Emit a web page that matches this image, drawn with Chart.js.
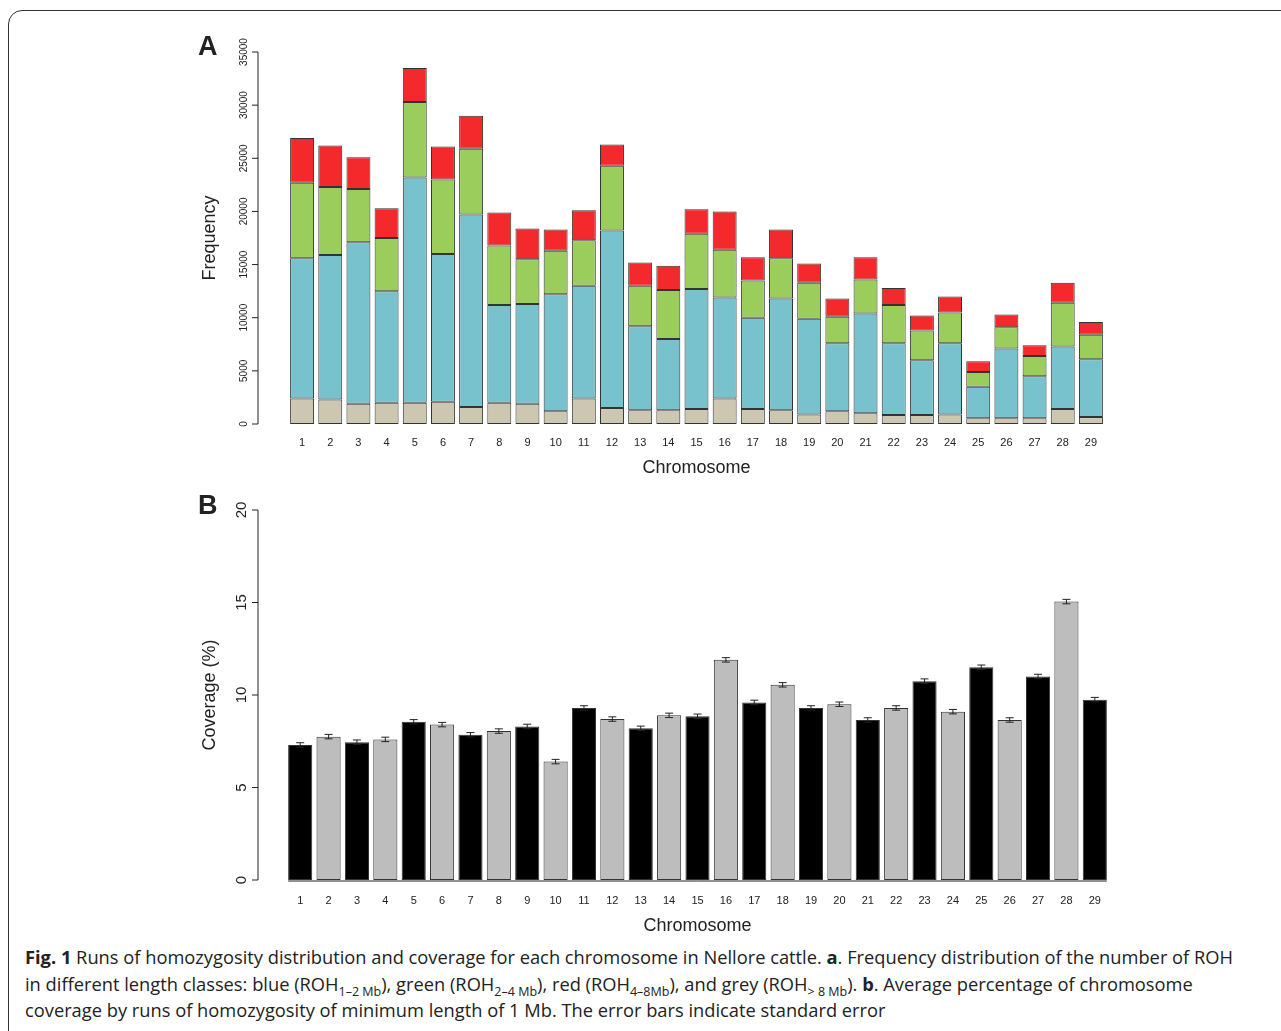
<!DOCTYPE html>
<html>
<head>
<meta charset="utf-8">
<script src="https://cdn.jsdelivr.net/npm/chart.js@4.4.1/dist/chart.umd.min.js"></script>
<style>
  body { margin: 0; background: #fff; font-family: "Open Sans", "Noto Sans", sans-serif; }
  #frame { position: absolute; left: 8px; top: 10px; width: 1290px; height: 1040px; border: 1.5px solid #333; border-radius: 14px; }
  .wrap { position: absolute; }
  #caption { position: absolute; left: 25px; top: 944px; width: 1215px; font-size: 18.3px; line-height: 26.5px; color: #222; }
  #caption sub { font-size: 12.5px; line-height: 0; }
</style>
</head>
<body>
<div id="frame"></div>
<div class="wrap" style="left:190px;top:25px;width:930px;height:470px"><canvas id="chartA"></canvas></div>
<div class="wrap" style="left:190px;top:480px;width:930px;height:460px"><canvas id="chartB"></canvas></div>
<div id="caption"><b>Fig. 1</b> Runs of homozygosity distribution and coverage for each chromosome in Nellore cattle. <b>a</b>. Frequency distribution of the number of ROH in different length classes: blue (ROH<sub>1–2 Mb</sub>), green (ROH<sub>2–4 Mb</sub>), red (ROH<sub>4–8Mb</sub>), and grey (ROH<sub>&gt; 8 Mb</sub>). <b>b</b>. Average percentage of chromosome coverage by runs of homozygosity of minimum length of 1 Mb. The error bars indicate standard error</div>
<script>
const chromosomes = Array.from({length: 29}, (_, i) => String(i + 1));

// Panel A: ROH counts per length class
const roh8 = [2400, 2300, 1900, 2000, 2000, 2100, 1600, 2000, 1900, 1200, 2400, 1500, 1300, 1300, 1400, 2400, 1400, 1300, 900, 1200, 1000, 850, 850, 900, 550, 550, 550, 1400, 650];
const roh12 = [13200, 13600, 15200, 10500, 21200, 13900, 18100, 9200, 9400, 11000, 10600, 16700, 7900, 6700, 11300, 9500, 8600, 10500, 9000, 6400, 9400, 6750, 5150, 6700, 2950, 6550, 3950, 5900, 5450];
const roh24 = [7100, 6400, 5000, 5000, 7100, 7000, 6200, 5600, 4200, 4100, 4300, 6100, 3800, 4600, 5200, 4500, 3500, 3800, 3400, 2500, 3200, 3600, 2800, 2900, 1400, 2000, 1900, 4100, 2300];
const roh48 = [4200, 3900, 3000, 2800, 3200, 3100, 3100, 3100, 2900, 2000, 2800, 2000, 2200, 2300, 2300, 3600, 2200, 2700, 1800, 1700, 2100, 1600, 1400, 1500, 1000, 1200, 1000, 1900, 1200];
const freqTicks = [0, 5000, 10000, 15000, 20000, 25000, 30000, 35000];

// Panel B: coverage (%) and standard error
const coverage = [7.3, 7.75, 7.45, 7.6, 8.55, 8.4, 7.85, 8.05, 8.3, 6.4, 9.3, 8.7, 8.2, 8.9, 8.85, 11.9, 9.6, 10.55, 9.3, 9.5, 8.65, 9.3, 10.75, 9.1, 11.5, 8.65, 11.0, 15.05, 9.75];
const coverageSE = Array(29).fill(0.12);
const coverTicks = [0, 5, 10, 15, 20];

const FONT = '"Liberation Sans", Arial, sans-serif';

function axesPlugin(o) {
  return {
    id: 'rAxes',
    afterDraw(chart) {
      const ctx = chart.ctx, y = chart.scales.y, x = chart.scales.x, a = chart.chartArea;
      ctx.save();
      ctx.strokeStyle = '#222'; ctx.fillStyle = '#222'; ctx.lineWidth = 1;
      // y axis line + ticks
      const ax = o.axisX;
      ctx.beginPath();
      ctx.moveTo(ax, y.getPixelForValue(o.ticks[0]));
      ctx.lineTo(ax, y.getPixelForValue(o.ticks[o.ticks.length - 1]));
      o.ticks.forEach(t => { const py = y.getPixelForValue(t); ctx.moveTo(ax, py); ctx.lineTo(ax - 6, py); });
      ctx.stroke();
      ctx.font = o.tickFont + 'px ' + FONT;
      ctx.textAlign = 'center'; ctx.textBaseline = 'bottom';
      o.ticks.forEach(t => {
        ctx.save(); ctx.translate(ax - 9, y.getPixelForValue(t)); ctx.rotate(-Math.PI / 2);
        ctx.fillText(String(t), 0, 0); ctx.restore();
      });
      // y title
      ctx.font = '18px ' + FONT;
      ctx.save(); ctx.translate(o.titleX, (a.top + a.bottom) / 2 + o.titleDy); ctx.rotate(-Math.PI / 2);
      ctx.textBaseline = 'middle'; ctx.fillText(o.yTitle, 0, 0); ctx.restore();
      // x labels
      ctx.font = '11px ' + FONT; ctx.textBaseline = 'middle';
      chromosomes.forEach((c, i) => ctx.fillText(c, x.getPixelForValue(i), a.bottom + o.labelDy));
      ctx.font = '18px ' + FONT;
      ctx.fillText('Chromosome', (a.left + a.right) / 2, a.bottom + o.labelDy + 25);
      if (o.baseLine) {
        ctx.beginPath();
        ctx.moveTo(x.getPixelForValue(0) - 12, a.bottom + 1);
        ctx.lineTo(x.getPixelForValue(28) + 12, a.bottom + 1);
        ctx.stroke();
      }
      // panel letter
      ctx.font = 'bold 27px ' + FONT; ctx.textAlign = 'left';
      ctx.fillText(o.letter, o.letterX, o.letterY);
      ctx.restore();
    }
  };
}

const errorBars = {
  id: 'errorBars',
  afterDatasetsDraw(chart) {
    const ctx = chart.ctx, y = chart.scales.y, x = chart.scales.x;
    ctx.save(); ctx.strokeStyle = '#222'; ctx.lineWidth = 1;
    coverage.forEach((v, i) => {
      const px = x.getPixelForValue(i), hi = y.getPixelForValue(v + coverageSE[i]), lo = y.getPixelForValue(v - coverageSE[i]);
      ctx.beginPath();
      ctx.moveTo(px, hi); ctx.lineTo(px, lo);
      ctx.moveTo(px - 4, hi); ctx.lineTo(px + 4, hi);
      ctx.moveTo(px - 4, lo); ctx.lineTo(px + 4, lo);
      ctx.stroke();
    });
    ctx.restore();
  }
};

function ds(label, data, color) {
  return { label, data, backgroundColor: color, borderColor: '#333', borderWidth: 1, borderSkipped: false,
           barPercentage: 0.85, categoryPercentage: 1 };
}

const baseOptions = (padding, max) => ({
  responsive: true, maintainAspectRatio: false, animation: false,
  layout: { padding },
  plugins: { legend: { display: false }, tooltip: { enabled: false } },
  scales: {
    x: { display: false, stacked: true },
    y: { display: false, stacked: true, min: 0, max }
  }
});

new Chart(document.getElementById('chartA'), {
  type: 'bar',
  data: {
    labels: chromosomes,
    datasets: [
      ds('ROH >8 Mb', roh8, '#cdc6b1'),
      ds('ROH 1-2 Mb', roh12, '#77c2cc'),
      ds('ROH 2-4 Mb', roh24, '#9bcd5c'),
      ds('ROH 4-8 Mb', roh48, '#f4292b')
    ]
  },
  options: baseOptions({ left: 98, right: 15, top: 27, bottom: 71 }, 35000),
  plugins: [axesPlugin({ ticks: freqTicks, axisX: 68, tickFont: 10, titleX: 20, titleDy: 0, yTitle: 'Frequency',
                         labelDy: 19, letter: 'A', letterX: 8, letterY: 23 })]
});

new Chart(document.getElementById('chartB'), {
  type: 'bar',
  data: {
    labels: chromosomes,
    datasets: [ds('Coverage', coverage, coverage.map((_, i) => i % 2 === 0 ? '#000' : '#bdbdbd'))]
  },
  options: baseOptions({ left: 96, right: 11, top: 30, bottom: 60 }, 20),
  plugins: [axesPlugin({ ticks: coverTicks, axisX: 68, tickFont: 15, titleX: 20, titleDy: 0, yTitle: 'Coverage (%)',
                         labelDy: 21, letter: 'B', letterX: 8, letterY: 27, baseLine: true }), errorBars]
});
</script>
</body>
</html>
